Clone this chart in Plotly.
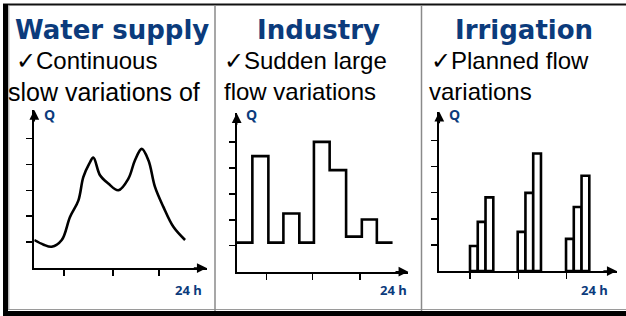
import plotly.graph_objects as go

W, H = 626, 316

# ---------------- data ----------------
titles = ["Water supply", "Industry", "Irrigation"]
line1 = ["\u2713Continuous", "\u2713Sudden large", "\u2713Planned flow"]
line2 = ["slow variations of", "flow variations", "variations"]

# Panel 1: water supply (smooth curve), hours vs Q
ws_hours = [0, 1.3, 2.42, 3.82, 4.97, 6.13, 6.82, 7.6, 8.22, 9.15, 10.3, 11.7, 13.1, 14.0, 14.96, 15.9, 16.8, 17.97, 19.36, 20.99]
ws_q = [1.08, 0.9, 0.82, 1.08, 1.97, 2.6, 3.51, 4.0, 4.26, 3.58, 3.26, 3.0, 3.45, 4.15, 4.6, 4.15, 3.13, 2.36, 1.59, 1.08]

# Panel 2: industry (step profile), segment start hours and Q
ind_hours = [0, 2.19, 4.43, 6.53, 8.76, 10.8, 13.0, 15.3, 17.5, 19.6, 21.8]
ind_q = [1.12, 4.45, 1.12, 2.24, 1.12, 5.0, 3.91, 1.35, 2.01, 1.12, 1.12]

# Panel 3: irrigation (bars)
irr_hours = [4.68, 5.73, 6.78, 11.13, 12.18, 13.23, 17.67, 18.72, 19.77]
irr_q = [0.96, 1.88, 2.82, 1.5, 2.99, 4.5, 1.23, 2.45, 3.65]

q_ticks = [1, 2, 3, 4, 5]
hour_ticks = [[4.14, 10.96, 17.37], [4.2, 10.6, 17.25], [4.15, 10.7, 17.2]]
x_end = 24
q_end = 6.1

# ---------------- layout geometry (pixels) ----------------
panels = [
    dict(x0=34.3, x1=206.7, y0=268.0, y1=110.0),
    dict(x0=236.7, x1=408.3, y0=271.7, y1=113.3),
    dict(x0=439.3, x1=616.7, y0=271.0, y1=111.7),
]
panel_centers = [111.5, 318.0, 524.0]
text_left1 = [14, 222, 429]
text_left2 = [6, 222, 427]
line2_size = [25, 24, 24]
q_label_x = [42, 244, 447]
h_label_cx = [188.7, 393.0, 594.7]

BLUE = "#0B3B7C"


def X(px):
    return px / W


def Y(py):
    return 1 - py / H


fig = go.Figure()

# traces
fig.add_trace(go.Scatter(x=ws_hours, y=ws_q, mode="lines",
                         line=dict(color="black", width=2.6, shape="spline", smoothing=1.0),
                         xaxis="x", yaxis="y", showlegend=False, hoverinfo="skip"))
fig.add_trace(go.Scatter(x=ind_hours, y=ind_q, mode="lines",
                         line=dict(color="black", width=2.6, shape="hv"),
                         xaxis="x2", yaxis="y2", showlegend=False, hoverinfo="skip"))
fig.add_trace(go.Bar(x=irr_hours, y=irr_q, width=1.05,
                     marker=dict(color="white", line=dict(color="black", width=2.6)),
                     xaxis="x3", yaxis="y3", showlegend=False, hoverinfo="skip"))

layout = dict(width=W, height=H, margin=dict(l=0, r=0, t=0, b=0),
              paper_bgcolor="white", plot_bgcolor="rgba(0,0,0,0)", showlegend=False)

axis_common = dict(showgrid=False, zeroline=False, showline=True, linecolor="black",
                   linewidth=2, ticks="outside", ticklen=6, tickwidth=1.5, tickcolor="black",
                   showticklabels=False, fixedrange=True)

for i, p in enumerate(panels):
    sfx = "" if i == 0 else str(i + 1)
    layout["xaxis" + sfx] = dict(axis_common, domain=[X(p["x0"]), X(p["x1"])],
                                 range=[0, x_end], tickvals=hour_ticks[i],
                                 anchor="y" + sfx)
    layout["yaxis" + sfx] = dict(axis_common, domain=[Y(p["y0"]), Y(p["y1"])],
                                 range=[0, q_end], tickvals=q_ticks,
                                 anchor="x" + sfx)

fig.update_layout(**layout)

annotations = []
shapes = []

for i, p in enumerate(panels):
    xr = "x" if i == 0 else "x%d" % (i + 1)
    yr = "y" if i == 0 else "y%d" % (i + 1)
    # arrow heads
    annotations.append(dict(x=x_end, y=0, ax=x_end - 2, ay=0, xref=xr, yref=yr,
                            axref=xr, ayref=yr, showarrow=True, arrowhead=2,
                            arrowsize=1.3, arrowwidth=1.5, arrowcolor="black",
                            standoff=0, text=""))
    annotations.append(dict(x=0, y=q_end, ax=0, ay=q_end - 0.5, xref=xr, yref=yr,
                            axref=xr, ayref=yr, showarrow=True, arrowhead=2,
                            arrowsize=1.3, arrowwidth=1.5, arrowcolor="black",
                            standoff=0, text=""))
    # axis labels
    annotations.append(dict(x=X(q_label_x[i]), y=Y(115), xref="paper", yref="paper",
                            text="<b>Q</b>", showarrow=False, xanchor="left", yanchor="middle",
                            font=dict(family="Open Sans", size=14, color=BLUE)))
    annotations.append(dict(x=X(h_label_cx[i]), y=Y(290), xref="paper", yref="paper",
                            text="<b>24 h</b>", showarrow=False, xanchor="center", yanchor="middle",
                            font=dict(family="Open Sans", size=13, color=BLUE)))
    # titles and body text
    annotations.append(dict(x=X(panel_centers[i]), y=Y(30.5), xref="paper", yref="paper",
                            text="<b>%s</b>" % titles[i], showarrow=False,
                            xanchor="center", yanchor="middle",
                            font=dict(family="DejaVu Sans", size=26, color=BLUE)))
    annotations.append(dict(x=X(text_left1[i]), y=Y(60), xref="paper", yref="paper",
                            text=line1[i], showarrow=False, xanchor="left", yanchor="middle",
                            font=dict(family="Liberation Sans, Arial", size=24, color="black")))
    annotations.append(dict(x=X(text_left2[i]), y=Y(91.5), xref="paper", yref="paper",
                            text=line2[i], showarrow=False, xanchor="left", yanchor="middle",
                            font=dict(family="Liberation Sans, Arial", size=line2_size[i], color="black")))

# frame
shapes.append(dict(type="line", xref="paper", yref="paper", x0=X(3), x1=X(626), y0=Y(4.5), y1=Y(4.5),
                   line=dict(color="#111111", width=2)))
shapes.append(dict(type="rect", xref="paper", yref="paper", x0=X(3), x1=X(8), y0=Y(4), y1=Y(316),
                   line=dict(width=0), fillcolor="black"))
shapes.append(dict(type="line", xref="paper", yref="paper", x0=X(8.8), x1=X(8.8), y0=Y(6), y1=Y(309),
                   line=dict(color="#9a9a9a", width=1)))
shapes.append(dict(type="rect", xref="paper", yref="paper", x0=X(3), x1=X(626), y0=Y(311), y1=Y(316),
                   line=dict(width=0), fillcolor="black"))
shapes.append(dict(type="line", xref="paper", yref="paper", x0=X(8), x1=X(626), y0=Y(309.5), y1=Y(309.5),
                   line=dict(color="#9a9a9a", width=1)))
for dx in [215, 421.5]:
    shapes.append(dict(type="line", xref="paper", yref="paper", x0=X(dx), x1=X(dx), y0=Y(5.5), y1=Y(311),
                       line=dict(color="#8a8a8a", width=1.5)))

fig.update_layout(annotations=annotations, shapes=shapes)

fig.write_html("out.html", config={"displayModeBar": False, "staticPlot": True},
               post_script="document.body.style.margin='0';document.body.style.overflow='hidden';")
